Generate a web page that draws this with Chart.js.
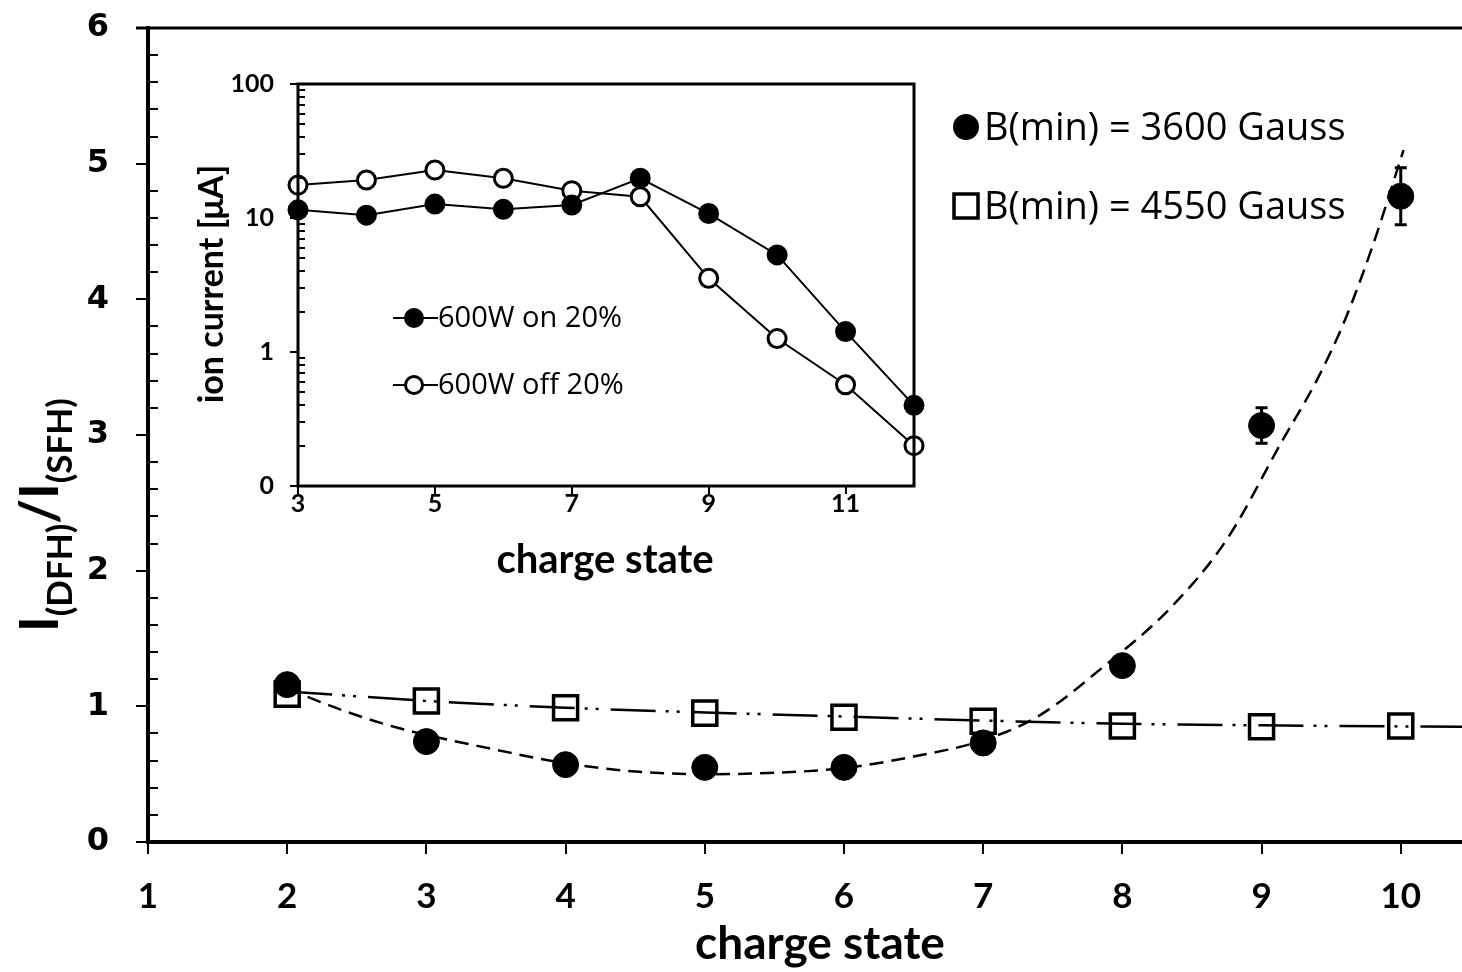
<!DOCTYPE html>
<html>
<head>
<meta charset="utf-8">
<script src="https://cdn.jsdelivr.net/npm/chart.js@4.4.0/dist/chart.umd.min.js"></script>
<style>
html, body { margin:0; padding:0; background:#fff; }
#wrap { position:relative; width:1462px; height:972px; overflow:hidden; }
#mainChart { position:absolute; left:0; top:0; }
#insetChart { position:absolute; left:180px; top:64px; }
</style>
</head>
<body>
<div id="wrap">
    <canvas id="mainChart" width="1462" height="972"></canvas>
    <canvas id="insetChart" width="760" height="530"></canvas>
</div>

<script type="text/JavaScript">

//------------------------------------------------------------------------------------------
// Data - main chart
//------------------------------------------------------------------------------------------
var chargeStates = [2, 3, 4, 5, 6, 7, 8, 9, 10];
var ratio3600    = [1.16, 0.74, 0.57, 0.55, 0.55, 0.73, 1.30, 3.07, 4.76];
var err3600      = [0, 0, 0, 0, 0, 0, 0, 0.13, 0.21];
var ratio4550    = [1.09, 1.04, 0.99, 0.95, 0.92, 0.89, 0.855, 0.85, 0.855];

// trend lines as read off the picture
var fit3600X = [2, 2.4, 2.8, 3.5, 4.0, 4.5, 5.0, 5.5, 6.0, 6.5, 7.0, 7.4, 7.85, 8.35, 8.75, 9.15, 9.4, 9.6, 9.8, 10.02];
var fit3600Y = [1.13, 0.97, 0.84, 0.68, 0.58, 0.52, 0.50, 0.51, 0.545, 0.63, 0.75, 0.93, 1.28, 1.73, 2.23, 2.96, 3.41, 3.85, 4.4, 5.1];
var fit4550X = [2, 3, 4, 5, 6, 7, 8, 9, 10, 10.44];
var fit4550Y = [1.11, 1.04, 0.99, 0.955, 0.925, 0.895, 0.872, 0.86, 0.852, 0.85];

var mainXTicks = [1, 2, 3, 4, 5, 6, 7, 8, 9, 10];
var mainYTicks = [0, 1, 2, 3, 4, 5, 6];
var legendLabels = ["B(min) = 3600 Gauss", "B(min) = 4550 Gauss"];

//------------------------------------------------------------------------------------------
// Data - inset
//------------------------------------------------------------------------------------------
var insetCharge   = [3, 4, 5, 6, 7, 8, 9, 10, 11, 12];
var current600On  = [11.5, 10.5, 12.7, 11.6, 12.5, 19.8, 10.8, 5.3, 1.42, 0.40];
var current600Off = [17.6, 19.2, 22.8, 19.8, 16.0, 14.4, 3.55, 1.26, 0.57, 0.20];
var insetXTicks = [3, 5, 7, 9, 11];
var insetYTicks = [0.1, 1, 10, 100];
var insetYTickLabels = ["0", "1", "10", "100"];
var insetLegendLabels = ["600W on 20%", "600W off 20%"];

function pts(xs, ys) {
    return xs.map(function(x, i) { return {x: x, y: ys[i]}; });
}

// no extra room for overhanging tick labels, the plot area is fixed
function noPad(s) {
    s.paddingTop = 0; s.paddingBottom = 0; s.paddingLeft = 0; s.paddingRight = 0;
}

//------------------------------------------------------------------------------------------
// main chart decorations
//------------------------------------------------------------------------------------------
var mainDecor = {
    id: 'mainDecor',
    beforeDatasetsDraw: function(chart) {
        var ctx = chart.ctx, xs = chart.scales.x, ys = chart.scales.y;
        ctx.save();
        ctx.strokeStyle = '#000';
        ctx.lineWidth = 3;
        // error bars
        for (var i in chargeStates) {
            if (err3600[i] <= 0) continue;
            var px = xs.getPixelForValue(chargeStates[i]);
            var yt = ys.getPixelForValue(ratio3600[i] + err3600[i]);
            var yb = ys.getPixelForValue(ratio3600[i] - err3600[i]);
            ctx.beginPath();
            ctx.moveTo(px, yt); ctx.lineTo(px, yb);
            ctx.moveTo(px - 6, yt); ctx.lineTo(px + 6, yt);
            ctx.moveTo(px - 6, yb); ctx.lineTo(px + 6, yb);
            ctx.stroke();
        }
        ctx.restore();
    },
    afterDraw: function(chart) {
        var ctx = chart.ctx, ys = chart.scales.y, ca = chart.chartArea;
        ctx.save();
        ctx.strokeStyle = '#000';
        ctx.fillStyle = '#000';

        // top frame line
        ctx.lineWidth = 3;
        ctx.beginPath();
        ctx.moveTo(ca.left - 12, ca.top); ctx.lineTo(ca.right, ca.top);
        ctx.stroke();

        // minor ticks inside the y axis
        ctx.lineWidth = 2;
        for (var v = 0.2; v < 6; v += 0.2) {
            if (Math.abs(v - Math.round(v)) < 0.01) continue;
            var py = Math.round(ys.getPixelForValue(v));
            ctx.beginPath();
            ctx.moveTo(ca.left, py); ctx.lineTo(ca.left + 10, py);
            ctx.stroke();
        }

        // legend
        ctx.font = '38px "Open Sans"';
        ctx.textBaseline = 'middle';
        ctx.textAlign = 'left';
        ctx.beginPath();
        ctx.arc(966, 127, 13, 0, Math.PI * 2);
        ctx.fill();
        ctx.fillText(legendLabels[0], 984, 129);
        ctx.lineWidth = 3.5;
        ctx.fillStyle = '#fff';
        ctx.fillRect(954, 194, 24, 24);
        ctx.strokeRect(954, 194, 24, 24);
        ctx.fillStyle = '#000';
        ctx.fillText(legendLabels[1], 984, 208);

        // x title
        ctx.font = 'bold 46px Lato';
        ctx.textAlign = 'center';
        ctx.fillText('charge state', 820, 944);

        // y title  I(DFH)/I(SFH), rotated
        var parts = [['I', false], ['(DFH)', true], ['/', false], ['I', false], ['(SFH)', true]];
        ctx.translate(58, 632);
        ctx.rotate(-Math.PI / 2);
        ctx.textAlign = 'left';
        ctx.textBaseline = 'alphabetic';
        var xp = 0;
        for (var k in parts) {
            ctx.font = parts[k][1] ? 'bold 35px Lato' : 'bold 53px Lato';
            ctx.fillText(parts[k][0], xp, parts[k][1] ? 14 : 0);
            xp += ctx.measureText(parts[k][0]).width;
        }
        ctx.restore();
    }
};

var mainChart = new Chart(document.getElementById('mainChart').getContext('2d'), {
    type: 'scatter',
    data: {
        datasets: [
            {   // 3600 Gauss markers
                data: pts(chargeStates, ratio3600),
                showLine: false,
                pointStyle: 'circle',
                pointRadius: 13,
                pointBackgroundColor: '#000',
                pointBorderColor: '#000',
                pointBorderWidth: 1,
                order: 0
            },
            {   // 4550 Gauss markers
                data: pts(chargeStates, ratio4550),
                showLine: false,
                pointStyle: 'rect',
                pointRadius: 17,
                pointBackgroundColor: 'rgba(255,255,255,0)',
                pointBorderColor: '#000',
                pointBorderWidth: 3.5,
                order: 1
            },
            {   // 3600 fit
                data: pts(fit3600X, fit3600Y),
                showLine: true,
                pointRadius: 0,
                borderColor: '#000',
                borderWidth: 2.5,
                borderDash: [14, 8],
                cubicInterpolationMode: 'monotone',
                order: 2
            },
            {   // 4550 fit
                data: pts(fit4550X, fit4550Y),
                showLine: true,
                pointRadius: 0,
                borderColor: '#000',
                borderWidth: 2.5,
                borderDash: [45, 10, 3, 8, 3, 12],
                cubicInterpolationMode: 'monotone',
                order: 3
            }
        ]
    },
    options: {
        responsive: false,
        animation: false,
        devicePixelRatio: 1,
        layout: { autoPadding: false, padding: { top: 28, right: 0, left: 0, bottom: 0 } },
        plugins: { legend: { display: false }, tooltip: { enabled: false } },
        scales: {
            x: {
                type: 'linear', min: 1, max: 10.44,
                afterBuildTicks: function(s) { s.ticks = mainXTicks.map(function(v) { return {value: v}; }); },
                afterFit: function(s) { s.height = 130; noPad(s); },
                border: { display: true, color: '#000', width: 4 },
                grid: { display: true, drawOnChartArea: false, drawTicks: true, tickLength: 12, color: '#000', lineWidth: 2 },
                ticks: { color: '#000', font: { family: 'Lato', weight: 'bold', size: 35 }, padding: 22, maxRotation: 0, autoSkip: false }
            },
            y: {
                type: 'linear', min: 0, max: 6,
                afterBuildTicks: function(s) { s.ticks = mainYTicks.map(function(v) { return {value: v}; }); },
                afterFit: function(s) { s.width = 148; noPad(s); },
                border: { display: true, color: '#000', width: 4 },
                grid: { display: true, drawOnChartArea: false, drawTicks: true, tickLength: 12, color: '#000', lineWidth: 2 },
                ticks: { color: '#000', font: { family: 'DejaVu Sans', weight: 'bold', size: 32 }, padding: 27 }
            }
        }
    },
    plugins: [mainDecor]
});

//------------------------------------------------------------------------------------------
// inset chart
//------------------------------------------------------------------------------------------
var insetDecor = {
    id: 'insetDecor',
    afterDraw: function(chart) {
        var ctx = chart.ctx, ys = chart.scales.y, ca = chart.chartArea;
        ctx.save();
        ctx.strokeStyle = '#000';
        ctx.fillStyle = '#000';

        // box
        ctx.lineWidth = 3;
        ctx.strokeRect(ca.left, ca.top, ca.right - ca.left, ca.bottom - ca.top);

        // log minor ticks inside
        ctx.lineWidth = 2;
        for (var d = 0.1; d < 100; d *= 10) {
            for (var m = 2; m <= 9; m++) {
                var py = Math.round(ys.getPixelForValue(d * m));
                ctx.beginPath();
                ctx.moveTo(ca.left, py); ctx.lineTo(ca.left + 7, py);
                ctx.stroke();
            }
        }

        // legend
        var rows = [[254, '#000'], [321, '#fff']];
        ctx.font = '29px "Open Sans"';
        ctx.textBaseline = 'middle';
        ctx.textAlign = 'left';
        for (var r in rows) {
            var ly = rows[r][0];
            ctx.lineWidth = 2;
            ctx.beginPath();
            ctx.moveTo(213, ly); ctx.lineTo(258, ly);
            ctx.stroke();
            ctx.lineWidth = 3;
            ctx.fillStyle = rows[r][1];
            ctx.beginPath();
            ctx.arc(234, ly, 8.5, 0, Math.PI * 2);
            ctx.fill(); ctx.stroke();
            ctx.fillStyle = '#000';
            ctx.fillText(insetLegendLabels[r], 258, ly + 1);
        }

        // titles
        ctx.font = 'bold 40px Lato';
        ctx.textAlign = 'center';
        ctx.fillText('charge state', 425, 496);

        ctx.translate(32, 220);
        ctx.rotate(-Math.PI / 2);
        ctx.font = 'bold 34px Lato';
        ctx.fillText('ion current [\u03bcA]', 0, 0);
        ctx.restore();
    }
};

var insetChart = new Chart(document.getElementById('insetChart').getContext('2d'), {
    type: 'scatter',
    data: {
        datasets: [
            {
                data: pts(insetCharge, current600On),
                showLine: true,
                borderColor: '#000',
                borderWidth: 2,
                pointRadius: 9,
                pointBorderWidth: 3,
                pointBackgroundColor: '#000',
                pointBorderColor: '#000'
            },
            {
                data: pts(insetCharge, current600Off),
                showLine: true,
                borderColor: '#000',
                borderWidth: 2,
                pointRadius: 9,
                pointBorderWidth: 3,
                pointBackgroundColor: '#fff',
                pointBorderColor: '#000'
            }
        ]
    },
    options: {
        responsive: false,
        animation: false,
        devicePixelRatio: 1,
        clip: false,
        layout: { autoPadding: false, padding: { top: 20, right: 26, left: 0, bottom: 0 } },
        plugins: { legend: { display: false }, tooltip: { enabled: false } },
        scales: {
            x: {
                type: 'linear', min: 3, max: 12,
                afterBuildTicks: function(s) { s.ticks = insetXTicks.map(function(v) { return {value: v}; }); },
                afterFit: function(s) { s.height = 108; noPad(s); },
                border: { display: false },
                grid: { display: true, drawOnChartArea: false, drawTicks: true, tickLength: 8, color: '#000', lineWidth: 2 },
                ticks: { color: '#000', font: { family: 'Lato', weight: 'bold', size: 25 }, padding: -5, maxRotation: 0, autoSkip: false }
            },
            y: {
                type: 'logarithmic', min: 0.1, max: 100,
                afterBuildTicks: function(s) { s.ticks = insetYTicks.map(function(v) { return {value: v}; }); },
                afterFit: function(s) { s.width = 118; noPad(s); },
                border: { display: false },
                grid: { display: true, drawOnChartArea: false, drawTicks: true, tickLength: 8, color: '#000', lineWidth: 2 },
                ticks: {
                    color: '#000', font: { family: 'Lato', weight: 'bold', size: 25 }, padding: 16,
                    callback: function(value, index) { return insetYTickLabels[index]; }
                }
            }
        }
    },
    plugins: [insetDecor]
});

</script>
</body>
</html>
